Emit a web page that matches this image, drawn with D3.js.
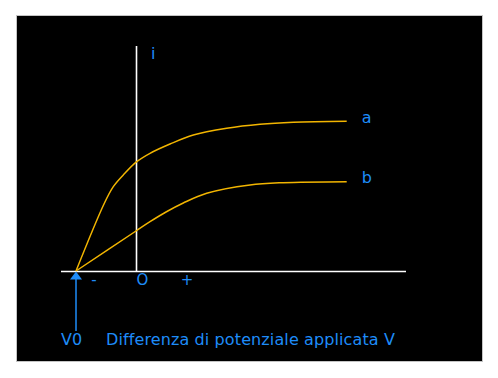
<!DOCTYPE html>
<html>
<head>
<meta charset="utf-8">
<script src="https://cdn.jsdelivr.net/npm/d3@7"></script>
<style>
  body { margin: 0; background: #fff; }
  text { font-family: "DejaVu Sans", sans-serif; fill: #1e8cf8; }
</style>
</head>
<body>
<div class="chart"></div>
<script>
// curve values (arbitrary units, O at x = 0)
var curveA_x = [-6, -3.2, -2.27, -1.27, 0.07, 1.4, 3.4, 5.73, 9.07, 12.4, 15.73, 21.07];
var curveA_y = [0, 6.7, 8.43, 9.6, 10.93, 11.77, 12.7, 13.6, 14.27, 14.67, 14.87, 14.97];
var curveB_x = [-6, 0, 1.4, 3, 4.73, 7.07, 11.4, 14.73, 21.07];
var curveB_y = [0, 4, 4.93, 5.9, 6.8, 7.77, 8.6, 8.83, 8.93];
var curveLabels = ['a', 'b'];
var v0 = -6;
var tickLabels = [{ x: -4.2, t: '-' }, { x: 0.65, t: 'O' }, { x: 5.1, t: '+' }];

draw();

function draw() {
    var width = 498, height = 378;

    var svg = d3.select('.chart')
        .append('svg')
        .attr('width', width)
        .attr('height', height);

    svg.append('rect')
        .attr('x', 16.5).attr('y', 15.5)
        .attr('width', 466).attr('height', 346)
        .attr('fill', '#000')
        .attr('stroke', '#c4c4c4');

    var x = d3.scaleLinear().domain([-7.5, 27]).range([61, 406]);
    var y = d3.scaleLinear().domain([0, 22.5]).range([271, 46]);

    // axes
    svg.append('line')
        .attr('x1', x(-7.5)).attr('x2', x(27))
        .attr('y1', y(0) + 0.5).attr('y2', y(0) + 0.5)
        .attr('stroke', '#fff').attr('stroke-width', 1.6);
    svg.append('line')
        .attr('x1', x(0) + 0.5).attr('x2', x(0) + 0.5)
        .attr('y1', y(0)).attr('y2', y(22.5))
        .attr('stroke', '#fff').attr('stroke-width', 1.6);

    var line = d3.line()
        .x(function (d) { return x(d[0]); })
        .y(function (d) { return y(d[1]); })
        .curve(d3.curveCatmullRom.alpha(0.5));

    var series = [
        d3.zip(curveA_x, curveA_y),
        d3.zip(curveB_x, curveB_y)
    ];

    svg.selectAll('path.curve')
        .data(series)
        .enter()
        .append('path')
        .attr('class', 'curve')
        .attr('d', line)
        .attr('fill', 'none')
        .attr('stroke', '#f2b500')
        .attr('stroke-width', 1.5);

    svg.selectAll('text.lab')
        .data(series)
        .enter()
        .append('text')
        .attr('class', 'lab')
        .attr('x', function (d) { return x(d[d.length - 1][0]) + 15; })
        .attr('y', function (d) { return y(d[d.length - 1][1]) + 1.5; })
        .attr('font-size', 16)
        .text(function (d, i) { return curveLabels[i]; });

    svg.append('text')
        .attr('x', x(0) + 15).attr('y', 59)
        .attr('font-size', 16)
        .text('i');

    svg.selectAll('text.tick')
        .data(tickLabels)
        .enter()
        .append('text')
        .attr('class', 'tick')
        .attr('x', function (d) { return x(d.x); })
        .attr('y', y(0) + 14)
        .attr('text-anchor', 'middle')
        .attr('font-size', 15)
        .text(function (d) { return d.t; });

    // V0 arrow
    var ax = x(v0);
    svg.append('line')
        .attr('x1', ax).attr('x2', ax)
        .attr('y1', y(0) + 6).attr('y2', 331)
        .attr('stroke', '#1e8cf8').attr('stroke-width', 1.5);
    svg.append('path')
        .attr('d', 'M' + ax + ',' + (y(0) + 0.5) + 'L' + (ax + 6) + ',' + (y(0) + 8.5) + 'L' + (ax - 6) + ',' + (y(0) + 8.5) + 'Z')
        .attr('fill', '#1e8cf8');

    svg.append('text')
        .attr('x', 61).attr('y', 345)
        .attr('font-size', 16)
        .text('V0');

    svg.append('text')
        .attr('x', 106).attr('y', 345)
        .attr('font-size', 16)
        .attr('letter-spacing', 0.11)
        .text('Differenza di potenziale applicata V');
}
</script>
</body>
</html>
